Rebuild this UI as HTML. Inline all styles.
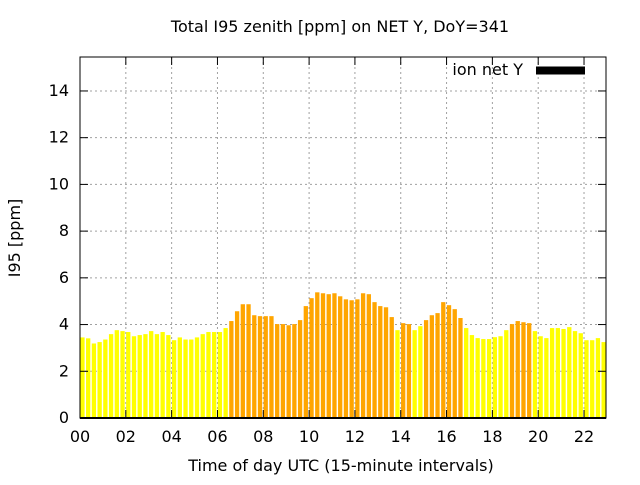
<!DOCTYPE html>
<html><head><meta charset="utf-8"><style>
body{margin:0;background:#fff}
svg text{font-family:"DejaVu Sans","Liberation Sans",sans-serif;font-size:16px;fill:#000}
</style></head><body>
<svg id="chart" width="640" height="480" xmlns="http://www.w3.org/2000/svg">
<rect width="640" height="480" fill="#fff"/>
<g id="grid"></g>
<g id="bars"></g>
<g id="axes"></g>
<text x="340" y="32" text-anchor="middle">Total I95 zenith [ppm] on NET Y, DoY=341</text>
<text x="341" y="471" text-anchor="middle">Time of day UTC (15-minute intervals)</text>
<text transform="translate(20,238) rotate(-90)" text-anchor="middle">I95 [ppm]</text>
<g>
<text x="523" y="75" text-anchor="end">ion net Y</text>
<rect x="536" y="66.5" width="49" height="8" fill="#000"/>
</g>
</svg>
<script>
const values=[3.45,3.41,3.19,3.25,3.36,3.59,3.76,3.72,3.68,3.50,3.55,3.59,3.72,3.59,3.68,3.55,3.33,3.45,3.36,3.36,3.45,3.59,3.68,3.68,3.68,3.85,
4.15,4.57,4.87,4.87,4.40,4.36,4.36,4.36,4.02,4.02,3.97,4.02,4.19,4.79,5.13,5.38,5.34,5.30,5.34,5.21,
5.08,5.04,5.08,5.34,5.30,4.96,4.79,4.74,4.32,3.76,4.06,4.02,3.76,3.93,4.19,4.40,4.49,4.96,4.83,4.66,4.28,
3.85,3.55,3.42,3.38,3.38,3.46,3.50,3.76,4.02,4.15,4.10,4.06,3.72,3.50,3.42,3.85,3.85,3.81,3.89,3.72,3.63,3.33,3.33,3.42,3.25];
const levels=[0,0,0,0,0,0,0,0,0,0,0,0,0,0,0,0,0,0,0,0,0,0,0,0,0,0,
1,1,1,1,1,1,1,1,1,1,1,1,1,1,1,1,1,1,1,1,
1,1,1,1,1,1,1,1,1,0,1,1,0,0,1,1,1,1,1,1,1,
0,0,0,0,0,0,0,0,1,1,1,1,0,0,0,0,0,0,0,0,0,0,0,0,0];
const yTicks=[0,2,4,6,8,10,12,14];
const xTickHours=[0,2,4,6,8,10,12,14,16,18,20,22];
const xTickLabels=["00","02","04","06","08","10","12","14","16","18","20","22"];
const NS="http://www.w3.org/2000/svg";
const L=80,R=606,T=57,B=418;
const pxPerHour=22.91;
const xH=h=>L+h*pxPerHour;
const y=v=>B-v*23.36;
function mk(tag,attrs,parent){const e=document.createElementNS(NS,tag);for(const k in attrs)e.setAttribute(k,attrs[k]);parent.appendChild(e);return e;}
const grid=document.getElementById('grid'),bars=document.getElementById('bars'),axes=document.getElementById('axes');
yTicks.forEach(v=>{
  if(v>0){const g=mk('line',{x1:L,x2:R,y1:y(v),y2:y(v),stroke:'#a0a0a0','stroke-dasharray':'2,3'},grid);
  
  }
  const t=mk('line',{x1:L,x2:L+8,y1:y(v),y2:y(v),stroke:'#000'},axes);
  
  
  const t2=mk('line',{x1:R-8,x2:R,y1:y(v),y2:y(v),stroke:'#000'},axes);
  
  
  const lb=mk('text',{x:L-11,y:y(v)+5,'text-anchor':'end'},axes);lb.textContent=v;
  
  
});
xTickHours.forEach((h,i)=>{
  const x=xH(h);
  if(h>0){const g=mk('line',{x1:x,x2:x,y1:T,y2:B,stroke:'#a0a0a0','stroke-dasharray':'2,3'},grid);
  
  }
  const t=mk('line',{x1:x,x2:x,y1:B,y2:B-8,stroke:'#000'},axes);
  
  
  const t2=mk('line',{x1:x,x2:x,y1:T,y2:T+8,stroke:'#000'},axes);
  
  
  const lb=mk('text',{x:x,y:B+24,'text-anchor':'middle'},axes);lb.textContent=xTickLabels[i];
  
  
});
values.forEach((v,i)=>{
  const x0=xH(i*0.25)+0.3;
  const r=mk('rect',{x:x0,y:y(v),width:4.3,height:B-y(v),fill:levels[i]?'#ffa500':'#ffff00'},bars);
  
  
});
const fr=mk('rect',{x:L,y:T,width:R-L,height:B-T,fill:'none',stroke:'#000','stroke-width':1},axes);


const bl=mk('line',{x1:L,x2:R,y1:B,y2:B,stroke:'#000','stroke-width':2},axes);


</script>
</body></html>
